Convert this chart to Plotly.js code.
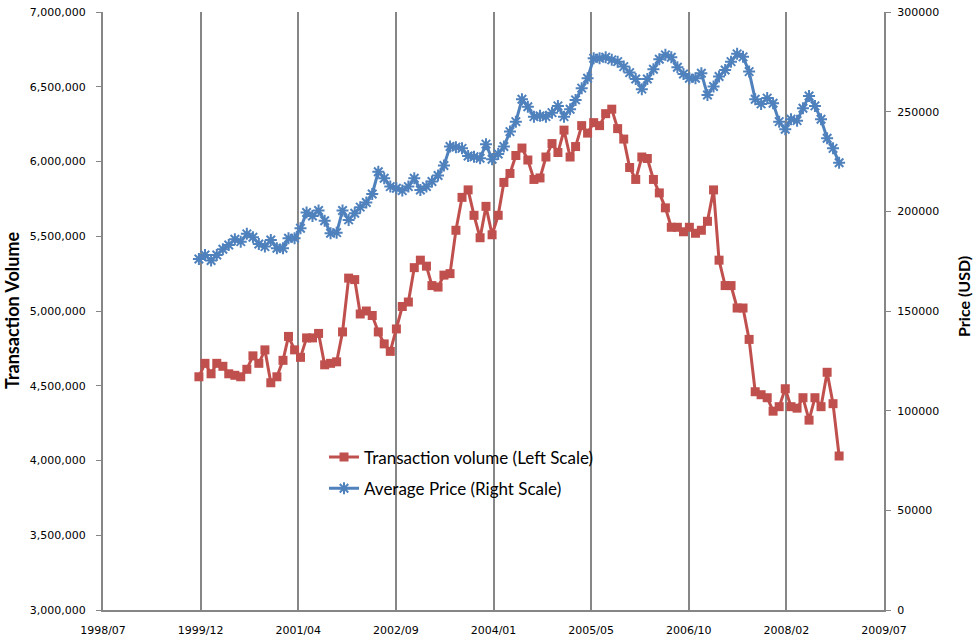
<!DOCTYPE html>
<html>
<head>
<meta charset="utf-8">
<script src="https://cdn.plot.ly/plotly-3.0.1.min.js"></script>
<style>html,body{margin:0;padding:0;background:#fff}#chart{width:973px;height:641px}</style>
</head>
<body>
<div id="chart"></div>
<script>
// ---- data (monthly, starting 1999/12) ----
const startYear = 1999, startMonth = 12;
const volume = [
  4560000,4650000,4580000,4650000,4630000,4580000,4570000,4560000,4610000,4700000,
  4650000,4740000,4520000,4560000,4670000,4830000,4740000,4690000,4820000,4820000,
  4850000,4640000,4650000,4660000,4860000,5220000,5210000,4980000,5000000,4970000,
  4860000,4780000,4730000,4880000,5030000,5060000,5290000,5340000,5300000,5170000,
  5160000,5240000,5250000,5540000,5760000,5810000,5640000,5490000,5700000,5510000,
  5640000,5860000,5920000,6040000,6090000,6010000,5880000,5890000,6030000,6120000,
  6060000,6210000,6030000,6100000,6240000,6190000,6260000,6240000,6320000,6350000,
  6220000,6150000,5960000,5880000,6030000,6020000,5880000,5790000,5690000,5560000,
  5560000,5530000,5560000,5520000,5540000,5600000,5810000,5340000,5170000,5170000,
  5020000,5020000,4810000,4460000,4440000,4420000,4330000,4360000,4480000,4360000,
  4350000,4420000,4270000,4420000,4360000,4590000,4380000,4030000
];
const price = [
  176100,178100,175300,178100,181000,183100,186000,184800,188700,187000,
  183600,182300,185600,181500,181500,186500,186500,191500,199400,197700,
  200400,195300,189000,189300,200400,195700,199000,202100,204400,208700,
  219900,216600,212400,211600,210400,212400,216600,210700,212500,215000,
  218000,223000,232500,232200,231600,227800,227400,226600,233700,226100,
  228800,232500,240000,245000,256200,252500,247500,247900,247500,249500,
  252900,247500,251200,255900,261800,266800,276800,276800,277300,276000,
  275100,272600,269600,266400,261300,266400,271300,276300,278500,277300,
  272300,268900,266800,266800,269300,258400,262600,267600,270900,275100,
  279000,277500,270100,256200,253900,256800,254200,245000,241200,246200,
  245500,251700,257900,252900,246200,236700,231600,224400
];
const xTickLabels = ["1998/07","1999/12","2001/04","2002/09","2004/01","2005/05","2006/10","2008/02","2009/07"];
const seriesNames = ["Transaction volume (Left Scale)", "Average Price (Right Scale)"];
const leftTitle = "Transaction Volume";
const rightTitle = "Price (USD)";

// ---- build month dates ----
function pad(n){return (n<10?'0':'')+n;}
const dates = volume.map((_, i) => {
  const m0 = (startMonth - 1) + i;
  const y = startYear + Math.floor(m0 / 12);
  const m = (m0 % 12) + 1;
  return y + '-' + pad(m) + '-01';
});

// evenly spaced date gridlines (Excel style day-based major unit)
const DAY = 86400000;
const firstTick = Date.UTC(1998, 6, 31);
const stepDays = 496.8;
function iso(ms){return new Date(ms).toISOString().replace('T',' ').slice(0,19);}
const tickVals = xTickLabels.map((_, k) => iso(firstTick + k * stepDays * DAY));

const red = '#C0504D', blue = '#4F81BD', gridC = '#868686';
const tickFont = {family: 'DejaVu Sans, sans-serif', size: 11, color: '#000'};
const titleFont = {family: 'Lato, sans-serif', size: 18, color: '#000', weight: 'bold'};

const traces = [
  {
    x: dates, y: volume, name: seriesNames[0], type: 'scatter', mode: 'lines+markers',
    legendgroup: 'a',
    line: {color: red, width: 3},
    marker: {symbol: 'square', size: 9, color: red},
    yaxis: 'y'
  },
  {
    x: dates, y: price, name: seriesNames[1], type: 'scatter', mode: 'lines+markers',
    legendgroup: 'b',
    line: {color: blue, width: 3},
    marker: {symbol: 'asterisk-open', size: 10, color: blue, line: {color: blue, width: 2}},
    yaxis: 'y2'
  }
];

const layout = {
  width: 973, height: 641,
  margin: {l: 103, r: 89, t: 12, b: 31, pad: 0},
  paper_bgcolor: '#fff', plot_bgcolor: '#fff',
  showlegend: true,
  legend: {
    x: 0.283, y: 0.285, xanchor: 'left', yanchor: 'top',
    bgcolor: 'rgba(0,0,0,0)', borderwidth: 0,
    font: {family: 'Lato, sans-serif', size: 17, color: '#000'},
    itemwidth: 30, tracegroupgap: 6
  },
  xaxis: {
    type: 'date',
    range: [tickVals[0], tickVals[tickVals.length - 1]],
    tickmode: 'array', tickvals: tickVals, ticktext: xTickLabels,
    showgrid: true, gridcolor: gridC, gridwidth: 2,
    showline: true, linecolor: gridC, linewidth: 2,
    ticks: '', zeroline: false, ticklabelstandoff: 9,
    tickfont: tickFont
  },
  yaxis: {
    range: [3000000, 7000000], dtick: 500000, tick0: 3000000,
    tickformat: ',d',
    showgrid: false, zeroline: false,
    showline: true, linecolor: gridC, linewidth: 2,
    ticks: 'outside', ticklen: 5, tickcolor: gridC, tickwidth: 1,
    ticklabelstandoff: 8,
    tickfont: tickFont
  },
  yaxis2: {
    overlaying: 'y', side: 'right',
    range: [0, 300000], dtick: 50000, tick0: 0,
    tickformat: 'd',
    showgrid: false, zeroline: false,
    showline: true, linecolor: gridC, linewidth: 2,
    ticks: 'outside', ticklen: 5, tickcolor: gridC, tickwidth: 1,
    ticklabelstandoff: 4,
    tickfont: tickFont
  },
  annotations: [
    {text: leftTitle, xref: 'paper', yref: 'paper', x: -0.1165, y: 0.5,
     xanchor: 'center', yanchor: 'middle', textangle: -90, showarrow: false, font: titleFont},
    {text: rightTitle, xref: 'paper', yref: 'paper', x: 1.101, y: 0.525,
     xanchor: 'center', yanchor: 'middle', textangle: -90, showarrow: false,
     font: {family: 'Lato, sans-serif', size: 16, color: '#000', weight: 'bold'}}
  ]
};

Plotly.newPlot('chart', traces, layout, {displayModeBar: false, staticPlot: true});
</script>
</body>
</html>
